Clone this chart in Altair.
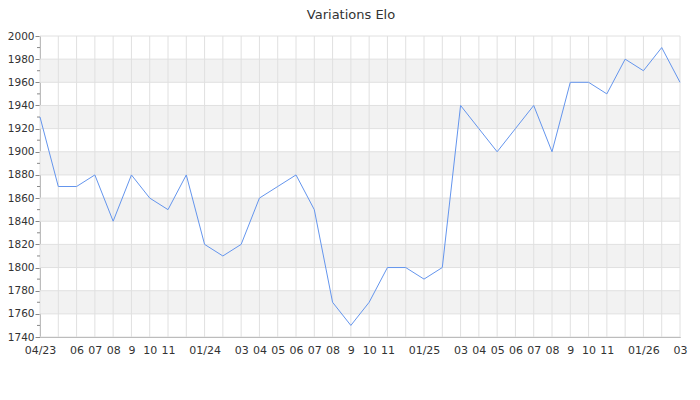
import altair as alt
import pandas as pd

# Monthly Elo values from 04/2023 to 03/2026
months = ["2023-04", "2023-05", "2023-06", "2023-07", "2023-08", "2023-09",
          "2023-10", "2023-11", "2023-12", "2024-01", "2024-02", "2024-03",
          "2024-04", "2024-05", "2024-06", "2024-07", "2024-08", "2024-09",
          "2024-10", "2024-11", "2024-12", "2025-01", "2025-02", "2025-03",
          "2025-04", "2025-05", "2025-06", "2025-07", "2025-08", "2025-09",
          "2025-10", "2025-11", "2025-12", "2026-01", "2026-02", "2026-03"]
elo = [1930, 1870, 1870, 1880, 1840, 1880, 1860, 1850, 1880, 1820, 1810, 1820,
       1860, 1870, 1880, 1850, 1770, 1750, 1770, 1800, 1800, 1790, 1800, 1940,
       1920, 1900, 1920, 1940, 1900, 1960, 1960, 1950, 1980, 1970, 1990, 1960]
tick_labels = ["04/23", "", "06", "07", "08", "9", "10", "11", "", "01/24", "", "03",
               "04", "05", "06", "07", "08", "9", "10", "11", "", "01/25", "", "03",
               "04", "05", "06", "07", "08", "9", "10", "11", "", "01/26", "", "03"]
band_low = [1760, 1800, 1840, 1880, 1920, 1960]
band_high = [1780, 1820, 1860, 1900, 1940, 1980]
minor_ticks = [1750, 1770, 1790, 1810, 1830, 1850, 1870, 1890, 1910, 1930, 1950, 1970, 1990]
y_ticks = list(range(1740, 2001, 20))

idx = list(range(len(months)))
df = pd.DataFrame({"i": idx, "month": months, "elo": elo})
bands = pd.DataFrame({"lo": band_low, "hi": band_high})
minor = pd.DataFrame({"v": minor_ticks})
ygrid = pd.DataFrame({"v": y_ticks})
xgrid = pd.DataFrame({"i": idx})

label_js = "[" + ",".join("'" + s + "'" for s in tick_labels) + "][datum.value]"

xscale = alt.Scale(domain=[0, len(months) - 1], nice=False, zero=False)
yscale = alt.Scale(domain=[1740, 2000], nice=False, zero=False)

xaxis = alt.Axis(values=idx, labelExpr=label_js, grid=False, title=None,
                 ticks=False, domainColor="#999999", labelColor="#333333",
                 labelFontSize=11, labelPadding=7, labelFont="DejaVu Sans",
                 labelOverlap=False, labelFlush=False)
yaxis = alt.Axis(values=y_ticks, grid=False, format="d", title=None,
                 tickSize=5, tickColor="#888888", domainColor="#999999",
                 labelColor="#333333", labelFontSize=10.5, labelPadding=1,
                 labelOverlap=False, labelFlush=False,
                 labelFont="DejaVu Sans")

band_layer = alt.Chart(bands).mark_rect(color="#f2f2f2").encode(
    x=alt.value(0), x2=alt.value(640),
    y=alt.Y("lo:Q", scale=yscale, axis=yaxis), y2="hi:Q",
)

ygrid_layer = alt.Chart(ygrid).mark_rule(color="#e0e0e0").encode(
    x=alt.value(0), x2=alt.value(640),
    y=alt.Y("v:Q", scale=yscale, axis=yaxis),
)

xgrid_layer = alt.Chart(xgrid).mark_rule(color="#e0e0e0").encode(
    y=alt.value(0), y2=alt.value(301),
    x=alt.X("i:Q", scale=xscale, axis=xaxis),
)

minor_layer = alt.Chart(minor).mark_rule(color="#888888", clip=False).encode(
    x=alt.value(-3), x2=alt.value(0),
    y=alt.Y("v:Q", scale=yscale, axis=yaxis),
)

line_layer = alt.Chart(df).mark_line(color="#6495ED", strokeWidth=1).encode(
    x=alt.X("i:Q", scale=xscale, axis=xaxis),
    y=alt.Y("elo:Q", scale=yscale, axis=yaxis),
)

chart = alt.layer(band_layer, ygrid_layer, xgrid_layer, minor_layer, line_layer).properties(
    width=640, height=301,
    title=alt.TitleParams("Variations Elo", font="DejaVu Sans", fontSize=13,
                          fontWeight="normal", color="#333333", anchor="middle",
                          dy=-5, dx=-9),
    autosize=alt.AutoSizeParams(type="none"),
    padding={"left": 32, "top": 28, "right": 12, "bottom": 40},
).configure_view(stroke="transparent")

chart.save("out.html", embed_options={"renderer": "svg", "actions": False})
